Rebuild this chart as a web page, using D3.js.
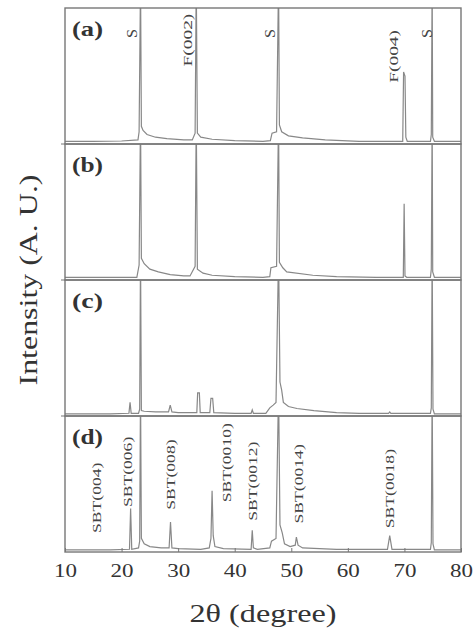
<!DOCTYPE html>
<html>
<head>
<meta charset="utf-8">
<script src="https://cdn.jsdelivr.net/npm/d3@7"></script>
<style>
  html, body { margin: 0; padding: 0; background: #fff; }
  svg { display: block; font-family: "Liberation Serif", "Times New Roman", serif; }
</style>
</head>
<body>
<div id="chart"></div>
<script>
// panels, top to bottom
const panels = ["a", "b", "c", "d"]
const xTicks = [10, 20, 30, 40, 50, 60, 70, 80]

// [2theta, relative intensity]; values above 1 are off scale
const specA = [[10,0.02],[15,0.02],[20,0.022],[22.9,0.03],[23.1,0.09],[23.35,1.2],[23.5,0.13],[23.8,0.1],[24.5,0.07],[26,0.05],[28,0.04],[31,0.03],[32.5,0.03],[33.0,0.08],[33.2,1.2],[33.4,0.08],[34,0.05],[36,0.035],[40,0.025],[45,0.02],[46.3,0.025],[46.6,0.08],[47.4,0.09],[47.75,1.2],[47.9,0.14],[48.3,0.09],[49.5,0.06],[52,0.045],[56,0.03],[62,0.02],[69.7,0.02],[69.85,0.53],[70.1,0.5],[70.25,0.05],[70.5,0.02],[74.6,0.02],[74.75,0.07],[74.9,1.2],[75.0,0.05],[75.3,0.02],[80,0.02]]
const specB = [[10,0.02],[20,0.02],[22.7,0.02],[23.1,0.11],[23.35,1.2],[23.5,0.16],[24,0.12],[25,0.08],[26.5,0.06],[28.6,0.04],[31,0.03],[32.1,0.03],[33.0,0.1],[33.2,1.2],[33.4,0.08],[34.4,0.05],[36,0.035],[40,0.025],[45,0.02],[46.2,0.025],[46.4,0.09],[47.4,0.1],[47.75,1.2],[47.9,0.13],[48.5,0.09],[49.2,0.06],[53.8,0.035],[58,0.025],[65,0.02],[69.8,0.02],[69.95,0.56],[70.1,0.03],[70.4,0.02],[74.6,0.02],[74.75,0.08],[74.9,1.2],[75.0,0.06],[75.3,0.02],[80,0.02]]
const specC = [[10,0.015],[18,0.015],[21.3,0.02],[21.5,0.1],[21.7,0.02],[23.0,0.02],[23.2,0.05],[23.35,1.2],[23.5,0.04],[24,0.035],[26,0.03],[28.3,0.03],[28.6,0.08],[28.9,0.03],[30,0.025],[33.3,0.025],[33.45,0.17],[33.75,0.17],[33.9,0.025],[35.6,0.025],[35.8,0.13],[36.1,0.13],[36.3,0.025],[40,0.02],[42.9,0.02],[43.1,0.045],[43.3,0.02],[45.5,0.02],[46.2,0.06],[46.8,0.08],[47.3,0.1],[47.75,1.2],[48.0,0.25],[48.3,0.19],[48.6,0.1],[49.5,0.07],[51,0.055],[54,0.04],[58,0.025],[62,0.02],[67.2,0.02],[67.4,0.03],[67.6,0.02],[74.6,0.02],[74.75,0.06],[74.9,1.2],[75.05,0.05],[75.3,0.015],[80,0.015]]
const specD = [[10,0.015],[18,0.015],[21.4,0.02],[21.6,0.32],[21.8,0.02],[23.0,0.03],[23.2,0.08],[23.35,1.2],[23.5,0.1],[24,0.06],[25,0.04],[27,0.03],[28.4,0.03],[28.65,0.22],[28.9,0.03],[30,0.025],[34,0.02],[35.5,0.03],[35.8,0.1],[36.0,0.45],[36.2,0.12],[36.5,0.04],[38,0.025],[42.9,0.02],[43.1,0.16],[43.3,0.03],[44,0.02],[46.2,0.03],[46.5,0.08],[47.3,0.1],[47.75,1.2],[48.0,0.2],[48.4,0.14],[48.8,0.06],[49.8,0.04],[50.7,0.05],[50.9,0.11],[51.2,0.05],[52,0.03],[58,0.02],[67.0,0.02],[67.4,0.12],[67.8,0.02],[74.6,0.02],[74.75,0.07],[74.9,1.2],[75.05,0.06],[75.3,0.015],[80,0.015]]
const spectra = [specA, specB, specC, specD]

// peak labels: [text, 2theta, relative intensity where the text starts]
const labelsA = [["S",21.8,0.78],["F(002)",31.7,0.57],["S",46.2,0.78],["F(004)",68.0,0.45],["S",74.0,0.78]]
const labelsD = [["SBT(004)",15.6,0.14],["SBT(006)",21.1,0.33],["SBT(008)",28.6,0.31],["SBT(0010)",38.6,0.365],["SBT(0012)",43.2,0.23],["SBT(0014)",51.2,0.21],["SBT(0018)",67.4,0.175]]

const width = 475, height = 638
const margin = {top: 8, right: 14, bottom: 86, left: 65}

const svg = d3.select("#chart").append("svg")
    .attr("width", width)
    .attr("height", height)

const x = d3.scaleLinear().domain([10, 80]).range([margin.left, width - margin.right])
const band = d3.scaleBand().domain(panels).range([margin.top, height - margin.bottom]).paddingInner(0)

panels.forEach((p, i) => {
    const top = band(p)
    const bottom = top + band.bandwidth()
    const y = d3.scaleLinear().domain([0, 1]).range([bottom, top])

    svg.append("clipPath").attr("id", "clip" + p)
        .append("rect")
        .attr("x", x(10)).attr("y", top)
        .attr("width", x(80) - x(10)).attr("height", bottom - top)

    const line = d3.line().x(d => x(d[0])).y(d => y(d[1]))
    svg.append("path")
        .datum(spectra[i])
        .attr("clip-path", `url(#clip${p})`)
        .attr("fill", "none")
        .attr("stroke", "#888")
        .attr("stroke-width", 1.2)
        .attr("stroke-linejoin", "miter")
        .attr("d", line)

    svg.append("text")
        .attr("x", 72)
        .attr("y", top + 28)
        .attr("font-size", 22)
        .attr("font-weight", "bold")
        .attr("fill", "#333")
        .attr("textLength", 31)
        .attr("lengthAdjust", "spacingAndGlyphs")
        .text(`(${p})`)

    const labels = p == "a" ? labelsA : p == "d" ? labelsD : []
    labels.forEach(l => {
        const small = l[0] == "S"
        const len = small ? 9 : l[0].length * 8.8
        svg.append("text")
            .attr("transform", `translate(${x(l[1])},${y(l[2])}) rotate(-90)`)
            .attr("dy", "0.35em")
            .attr("font-size", small ? 15 : 13)
            .attr("fill", "#444")
            .attr("textLength", len)
            .attr("lengthAdjust", "spacingAndGlyphs")
            .text(l[0])
    })

    // panel frame
    svg.append("rect")
        .attr("x", x(10)).attr("y", top)
        .attr("width", x(80) - x(10)).attr("height", bottom - top)
        .attr("fill", "none")
        .attr("stroke", "#777")
        .attr("stroke-width", 1.4)

    if (i > 0) {
        svg.append("line")
            .attr("x1", x(10) - 4).attr("x2", x(10))
            .attr("y1", top).attr("y2", top)
            .attr("stroke", "#777")
    }
})

// bottom axis
const xAxis = d3.axisBottom(x).tickValues(xTicks).tickSize(-4).tickPadding(12)
const gx = svg.append("g")
    .attr("transform", `translate(0,${band("d") + band.bandwidth()})`)
    .call(xAxis)
gx.select(".domain").remove()
gx.selectAll(".tick line").attr("stroke", "#777")
gx.selectAll(".tick text")
    .attr("font-family", "Liberation Serif, serif")
    .attr("font-size", 18)
    .attr("fill", "#333")
    .attr("textLength", 23)
    .attr("lengthAdjust", "spacingAndGlyphs")

svg.append("text")
    .attr("x", (x(10) + x(80)) / 2)
    .attr("y", 622)
    .attr("text-anchor", "middle")
    .attr("font-size", 25)
    .attr("fill", "#333")
    .attr("textLength", 147)
    .attr("lengthAdjust", "spacingAndGlyphs")
    .text("2θ (degree)")

svg.append("text")
    .attr("transform", `translate(37,${(margin.top + height - margin.bottom) / 2}) rotate(-90)`)
    .attr("text-anchor", "middle")
    .attr("font-size", 26)
    .attr("fill", "#333")
    .attr("textLength", 211)
    .attr("lengthAdjust", "spacingAndGlyphs")
    .text("Intensity (A. U.)")
</script>
</body>
</html>
